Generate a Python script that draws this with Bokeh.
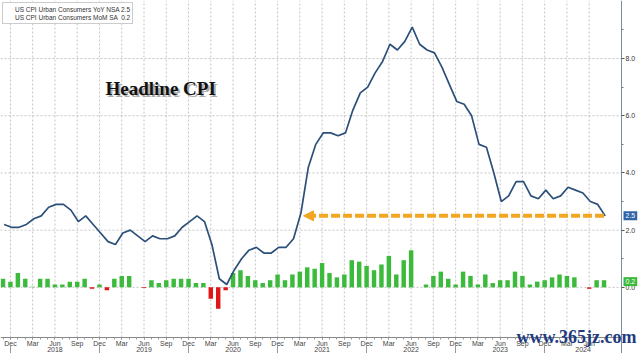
import pandas as pd
from bokeh.plotting import figure
from bokeh.models import (LinearAxis, FixedTicker, Range1d, Legend, LegendItem,
                          Label, Arrow, NormalHead, NumeralTickFormatter)
from bokeh.embed import file_html
from bokeh.resources import INLINE

# ---------------- data ----------------
months = [str(p) for p in pd.period_range("2017-11", "2024-08", freq="M")]

cpi_yoy = [2.2, 2.1,
           2.1, 2.2, 2.4, 2.5, 2.8, 2.9, 2.9, 2.7, 2.3, 2.5, 2.2, 1.9,
           1.6, 1.5, 1.9, 2.0, 1.8, 1.6, 1.8, 1.7, 1.7, 1.8, 2.1, 2.3,
           2.5, 2.3, 1.5, 0.3, 0.1, 0.6, 1.0, 1.3, 1.4, 1.2, 1.2, 1.4,
           1.4, 1.7, 2.6, 4.2, 5.0, 5.4, 5.4, 5.3, 5.4, 6.2, 6.8, 7.0,
           7.5, 7.9, 8.5, 8.3, 8.6, 9.1, 8.5, 8.3, 8.2, 7.7, 7.1, 6.5,
           6.4, 6.0, 5.0, 4.9, 4.0, 3.0, 3.2, 3.7, 3.7, 3.2, 3.1, 3.4,
           3.1, 3.2, 3.5, 3.4, 3.3, 3.0, 2.9, 2.5]

cpi_mom = [0.3, 0.2,
           0.5, 0.3, 0.02, 0.3, 0.3, 0.1, 0.1, 0.2, 0.2, 0.3, -0.05, 0.1,
           -0.1, 0.3, 0.4, 0.4, 0.0, -0.02, 0.25, 0.15, 0.25, 0.3, 0.3, 0.3,
           0.15, 0.15, -0.4, -0.75, -0.1, 0.5, 0.6, 0.4, 0.25, 0.15, 0.25, 0.45,
           0.25, 0.45, 0.55, 0.7, 0.65, 0.85, 0.5, 0.35, 0.45, 0.95, 0.9, 0.75,
           0.6, 0.8, 1.1, 0.45, 0.95, 1.3, 0.0, 0.1, 0.4, 0.55, 0.3, 0.1,
           0.55, 0.4, 0.1, 0.45, 0.15, 0.25, 0.25, 0.55, 0.4, 0.1, 0.2, 0.25,
           0.35, 0.45, 0.4, 0.35, 0.0, -0.05, 0.25, 0.25]

yoy_label = "US CPI Urban Consumers YoY NSA 2.5"
mom_label = "US CPI Urban Consumers MoM SA  0.2"
latest_yoy = 2.5
latest_mom = 0.2
arrow_level = 2.5
arrow_from, arrow_to = "2021-03", "2024-08"
y_ticks = [0, 2, 4, 6, 8]
y_minor = [1, 3, 5, 7, 9]
month_names = {12: "Dec", 3: "Mar", 6: "Jun", 9: "Sep"}

# ---------------- colours ----------------
LINE = "#2c5079"
GREEN = "#3cba3c"
RED = "#e01515"
ORANGE = "#f2a623"
BLUE_TAG = "#2f64a8"
GRID = "#c4c4c4"
FONT = "Liberation Sans"

idx = list(range(len(months)))
PX_PER_MONTH = 7.42
PX_PER_UNIT = 28.6
x0 = -0.34
x_axis = x0 + 621 / PX_PER_MONTH      # where the value axis sits
x1 = x0 + 640 / PX_PER_MONTH
y_top = 10.03
y_bottom = y_top - 353 / PX_PER_UNIT   # canvas bottom
y_axis = y_top - 337 / PX_PER_UNIT     # month axis line
y_year = y_top - 345 / PX_PER_UNIT     # year row

p = figure(width=640, height=353, output_backend="svg", toolbar_location=None,
           x_range=Range1d(x0, x1), y_range=Range1d(y_bottom, y_top),
           min_border_left=0, min_border_top=0, min_border_right=0, min_border_bottom=0,
           x_axis_location=None, y_axis_location=None)
p.outline_line_color = None
p.background_fill_color = "white"
p.border_fill_color = "white"
p.xgrid.visible = False
p.ygrid.visible = False

# dotted grid lines, limited to the plotting area
quarter_idx = [i for i, m in enumerate(months) if int(m[5:]) in month_names]
p.segment(x0=quarter_idx, x1=quarter_idx, y0=[y_axis] * len(quarter_idx), y1=[y_top] * len(quarter_idx),
          line_color=GRID, line_dash="2 2", line_width=1)
p.segment(x0=[x0] * len(y_ticks), x1=[x_axis] * len(y_ticks), y0=y_ticks, y1=y_ticks,
          line_color=GRID, line_dash="2 2", line_width=1)

# bars
colors = [GREEN if v >= 0 else RED for v in cpi_mom]
p.vbar(x=idx, top=cpi_mom, bottom=0, width=0.6, fill_color=colors, line_color=None)

# line
p.line(x=[i + 0.15 for i in idx], y=cpi_yoy, line_color=LINE, line_width=1.7)

# arrow
a_start = months.index(arrow_to)
a_end = months.index(arrow_from) + 0.5
p.add_layout(Arrow(end=NormalHead(size=10, fill_color=ORANGE, line_color=ORANGE),
                   x_start=a_start, y_start=arrow_level, x_end=a_end, y_end=arrow_level,
                   line_color=ORANGE, line_width=4, line_dash="9 3"))

# right value axis (fixed inside the canvas)
ry = LinearAxis(ticker=FixedTicker(ticks=y_ticks, minor_ticks=y_minor),
                formatter=NumeralTickFormatter(format="0.0"), fixed_location=x_axis)
ry.axis_line_color = "#7a8ea4"
ry.major_tick_line_color = "#555"
ry.minor_tick_line_color = "#777"
ry.major_tick_in = 0
ry.major_tick_out = 3
ry.minor_tick_in = 0
ry.minor_tick_out = 2
ry.major_label_standoff = 1
ry.major_label_text_font = FONT
ry.major_label_text_font_size = "7px"
ry.major_label_text_color = "#333"
p.add_layout(ry, "right")

# bottom axis: months
bx = LinearAxis(ticker=FixedTicker(ticks=quarter_idx, minor_ticks=idx),
                bounds=(x0, x_axis), fixed_location=y_axis)
bx.major_label_overrides = {i: month_names[int(months[i][5:])] for i in quarter_idx}
bx.axis_line_color = "#888"
bx.major_tick_line_color = "#777"
bx.minor_tick_line_color = "#999"
bx.major_tick_in = 0
bx.major_tick_out = 2
bx.minor_tick_in = 0
bx.minor_tick_out = 2
bx.major_label_standoff = 0
bx.major_label_text_font = FONT
bx.major_label_text_font_size = "7px"
bx.major_label_text_color = "#444"
p.add_layout(bx, "below")

# bottom axis: years
dec_idx = [i for i, m in enumerate(months) if m.endswith("-12")]
years = [str(int(months[i][:4]) + 1) for i in dec_idx]
year_pos = [i + 6 for i in dec_idx[:-1]] + [(dec_idx[-1] + x_axis) / 2]
yx = LinearAxis(ticker=FixedTicker(ticks=year_pos, minor_ticks=dec_idx), fixed_location=y_year)
yx.major_label_overrides = {pos: y for pos, y in zip(year_pos, years)}
yx.axis_line_color = None
yx.major_tick_line_color = None
yx.minor_tick_line_color = "#999"
yx.minor_tick_in = 0
yx.minor_tick_out = 9
yx.major_tick_in = 0
yx.major_tick_out = 0
yx.major_label_standoff = -8
yx.major_label_text_font = FONT
yx.major_label_text_font_size = "7px"
yx.major_label_text_color = "#444"
p.add_layout(yx, "below")

# legend
d1 = p.scatter([], [], marker="square", size=7, fill_color="#2d6ab8", line_color=None)
d2 = p.scatter([], [], marker="square", size=7, fill_color=GREEN, line_color=None)
leg = Legend(items=[LegendItem(label=yoy_label, renderers=[d1]),
                    LegendItem(label=mom_label, renderers=[d2])],
             location="top_left", margin=2, padding=2, spacing=0,
             glyph_width=7, glyph_height=7, label_height=8, label_standoff=3,
             label_text_font=FONT, label_text_font_size="6.5px", label_text_color="#333",
             border_line_color="#999", border_line_width=1, background_fill_alpha=1)
p.add_layout(leg)

# headline text with shadow
for dx, dy, col, alpha in [(2, -2, "#888", 0.7), (0, 0, "#111", 1.0)]:
    p.add_layout(Label(x=105 + dx, y=6.96, x_units="screen", y_offset=dy, text="Headline CPI",
                       text_font="Liberation Serif", text_font_style="bold", text_font_size="19px",
                       text_baseline="alphabetic", text_color=col, text_alpha=alpha))

# value tags on the right axis
for val, col in [(latest_yoy, BLUE_TAG), (latest_mom, GREEN)]:
    p.add_layout(Label(x=623, y=val, x_units="screen", text=f"{val:.1f}",
                       text_baseline="middle", text_font=FONT, text_font_size="7px",
                       text_color="white", background_fill_color=col, padding=2))

# watermark
p.add_layout(Label(x=516, y=-1.74, x_units="screen", text="www.365jz.com",
                   text_font="Liberation Serif", text_font_style="bold", text_font_size="18px",
                   text_baseline="alphabetic", text_color="#1f3b80"))

open("out.html", "w").write(file_html(p, INLINE))
